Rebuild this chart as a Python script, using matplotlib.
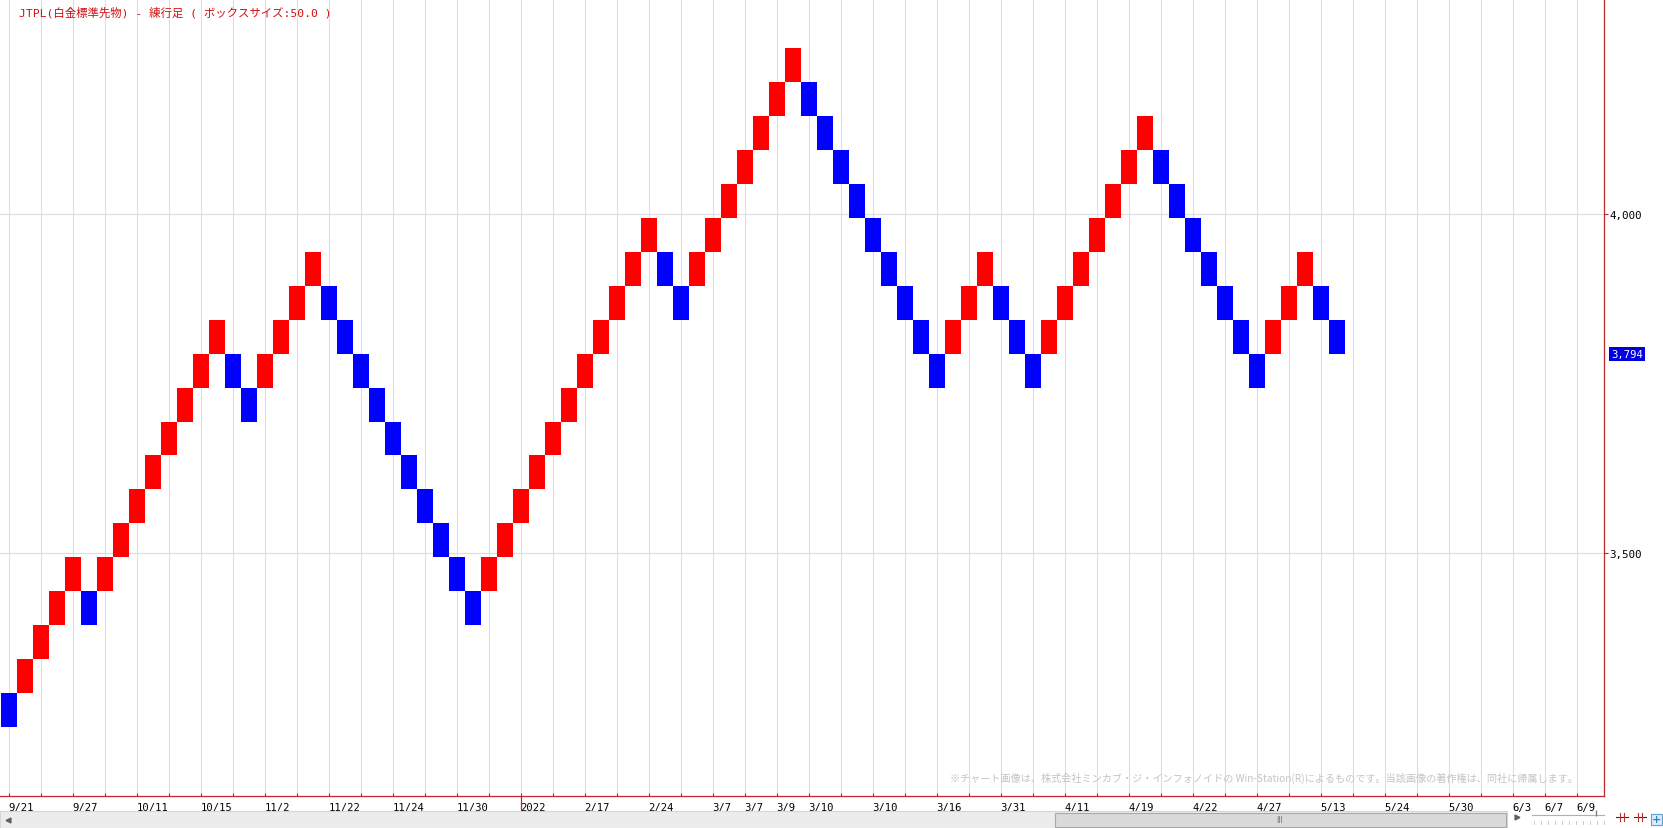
import matplotlib
matplotlib.use("Agg")
import matplotlib.pyplot as plt
from matplotlib.patches import Rectangle
from matplotlib.lines import Line2D
import matplotlib.transforms as mtransforms

# ---------------- data ----------------
box_size = 50
brick_low = [3244, 3294, 3344, 3394, 3444, 3394, 3444, 3494, 3544, 3594,
             3644, 3694, 3744, 3794, 3744, 3694, 3744, 3794, 3844, 3894,
             3844, 3794, 3744, 3694, 3644, 3594, 3544, 3494, 3444, 3394,
             3444, 3494, 3544, 3594, 3644, 3694, 3744, 3794, 3844, 3894,
             3944, 3894, 3844, 3894, 3944, 3994, 4044, 4094, 4144, 4194,
             4144, 4094, 4044, 3994, 3944, 3894, 3844, 3794, 3744, 3794,
             3844, 3894, 3844, 3794, 3744, 3794, 3844, 3894, 3944, 3994,
             4044, 4094, 4044, 3994, 3944, 3894, 3844, 3794, 3744, 3794,
             3844, 3894, 3844, 3794]
brick_dir = list("DUUUUDUUUUUUUUDDUUUUDDDDDDDDDDUUUUUUUUUUUDDUUUUUUU"
                 "DDDDDDDDDUUUDDDUUUUUUUDDDDDDDUUUDD")
last_price = 3794
y_ticks = [3500, 4000]
y_tick_labels = ["3,500", "4,000"]
x_label_cols = [0, 4, 8, 12, 16, 20, 24, 28, 32, 36, 40, 44, 46, 48, 50, 54,
                58, 62, 66, 70, 74, 78, 82, 86, 90, 94, 96, 98]
x_label_text = ["9/21", "9/27", "10/11", "10/15", "11/2", "11/22", "11/24",
                "11/30", "2022", "2/17", "2/24", "3/7", "3/7", "3/9", "3/10",
                "3/10", "3/16", "3/31", "4/11", "4/19", "4/22", "4/27", "5/13",
                "5/24", "5/30", "6/3", "6/7", "6/9"]
year_break_col = 32
title = "JTPL(白金標準先物) - 練行足 ( ボックスサイズ:50.0 )"
notice = ("※チャート画像は、株式会社ミンカブ・ジ・インフォノイドの Win-Station(R)"
          "によるものです。当該画像の著作権は、同社に帰属します。")

# ---------------- layout ----------------
W, H = 1663, 829
AX_RIGHT = 1604
AX_BOTTOM = 796.7
RED = "#c0262b"
UPC, DNC = "#ff0000", "#0000ff"
MONO = ["DejaVu Sans Mono", "Noto Sans CJK JP"]
JP = ["Noto Sans CJK JP", "DejaVu Sans"]


def fx(px):
    return px / W


def fy(py):
    return 1 - py / H


fig = plt.figure(figsize=(W / 100, H / 100), dpi=100, facecolor="white")
ax = fig.add_axes([0, fy(AX_BOTTOM), fx(AX_RIGHT), AX_BOTTOM / H])
ax.set_facecolor("white")

n = len(brick_low)
colors = [UPC if d == "U" else DNC for d in brick_dir]
ax.bar(range(n), [box_size] * n, bottom=brick_low, width=1.0, align="edge",
       color=colors, linewidth=0, zorder=3)

# scales: 16 px per column, ~0.6792 px per price unit
x0 = -0.5 / 16
ax.set_xlim(x0, x0 + AX_RIGHT / 16)
ppu = 339.6 / 500
ax.set_ylim(4000 - (AX_BOTTOM - 214.7) / ppu, 4000 + 214.7 / ppu)

# x ticks at centres of every second column
tick_cols = list(range(0, 100, 2))
ax.set_xticks([c + 0.5 for c in tick_cols])
lab_map = dict(zip(x_label_cols, x_label_text))
ax.set_xticklabels([lab_map.get(c, "") for c in tick_cols], family=MONO,
                   fontsize=7.6, ha="left")
ax.tick_params(axis="x", direction="in", length=2.5, width=0.8, color=RED,
               pad=4.5, labelcolor="black")

ax.yaxis.tick_right()
ax.set_yticks(y_ticks)
ax.set_yticklabels(y_tick_labels, family=MONO, fontsize=7.8)
ax.tick_params(axis="y", direction="out", length=3, width=0.8, color=RED,
               pad=1, labelcolor="black")

ax.grid(True, color="#dddddd", linewidth=0.8, zorder=0)
ax.set_axisbelow(True)
for s in ("left", "top"):
    ax.spines[s].set_visible(False)
for s in ("right", "bottom"):
    ax.spines[s].set_color(RED)
    ax.spines[s].set_linewidth(0.9)

# year separator below the axis
trans = mtransforms.blended_transform_factory(ax.transData, ax.transAxes)
ax.add_line(Line2D([year_break_col + 0.5] * 2, [0, -16 / AX_BOTTOM],
                   transform=trans, color=RED, lw=0.9, clip_on=False))

# last price label
transy = mtransforms.blended_transform_factory(ax.transAxes, ax.transData)
ax.text(1.0045, last_price, "3,794", transform=transy, family=MONO,
        fontsize=7.6, color="white", va="center", ha="left",
        bbox=dict(boxstyle="square,pad=0.2", fc="#0000e0", ec="none"))

# title and notice
fig.text(fx(19), fy(12.5), title, family=MONO, fontsize=8.2, color="#d01010",
         va="center", ha="left")
fig.text(fx(950), fy(778), notice, family=JP, fontsize=7.3, color="#c4c4c4",
         va="center", ha="left")

# ------------- scroll bar / controls (decoration) -------------
fig.add_artist(Rectangle((0, fy(829)), fx(1507), (829 - 812) / H,
                         transform=fig.transFigure, fc="#ececec",
                         ec="#d6d6d6", lw=0.8))
fig.add_artist(Rectangle((fx(1055), fy(827.5)), fx(1506 - 1055), 14 / H,
                         transform=fig.transFigure, fc="#dadada",
                         ec="#a9a9a9", lw=0.8))
fig.text(fx(1280), fy(820.5), "III", family="DejaVu Sans", fontsize=5.5,
         color="#707070", ha="center", va="center")
fig.add_artist(Line2D([fx(8)], [fy(820.5)], marker="<", markersize=3.5,
                      color="#606060", transform=fig.transFigure))
fig.add_artist(Line2D([fx(1517)], [fy(818)], marker=">", markersize=3.5,
                      color="#606060", transform=fig.transFigure))
fig.add_artist(Line2D([fx(1532), fx(1604)], [fy(815.5)] * 2, color="#b0b0b0",
                      lw=0.8, transform=fig.transFigure))
for k in range(11):
    xx = fx(1534 + k * 7)
    fig.add_artist(Line2D([xx, xx], [fy(822), fy(825)], color="#c0c0c0",
                          lw=0.6, transform=fig.transFigure))
fig.add_artist(Line2D([fx(1596)], [fy(814)], marker="|", markersize=5,
                      color="#808080", transform=fig.transFigure))
for cx, col in ((1622, "#c03030"), (1640, "#c03030")):
    fig.add_artist(Line2D([fx(cx - 6), fx(cx + 6)], [fy(818)] * 2, color="#303030",
                          lw=0.8, transform=fig.transFigure))
    fig.add_artist(Line2D([fx(cx - 2), fx(cx - 2)], [fy(814), fy(822)], color=col,
                          lw=0.8, transform=fig.transFigure))
    fig.add_artist(Line2D([fx(cx + 2), fx(cx + 2)], [fy(814), fy(822)], color=col,
                          lw=0.8, transform=fig.transFigure))
fig.add_artist(Rectangle((fx(1651), fy(826)), fx(11), 11 / H,
                         transform=fig.transFigure, fc="#dbeefa",
                         ec="#5aa0d0", lw=0.8))
fig.text(fx(1656.5), fy(820.5), "+", family="DejaVu Sans", fontsize=8,
         color="#2a8ac8", ha="center", va="center", fontweight="bold")

fig.savefig("out.png", dpi=100, facecolor="white")
